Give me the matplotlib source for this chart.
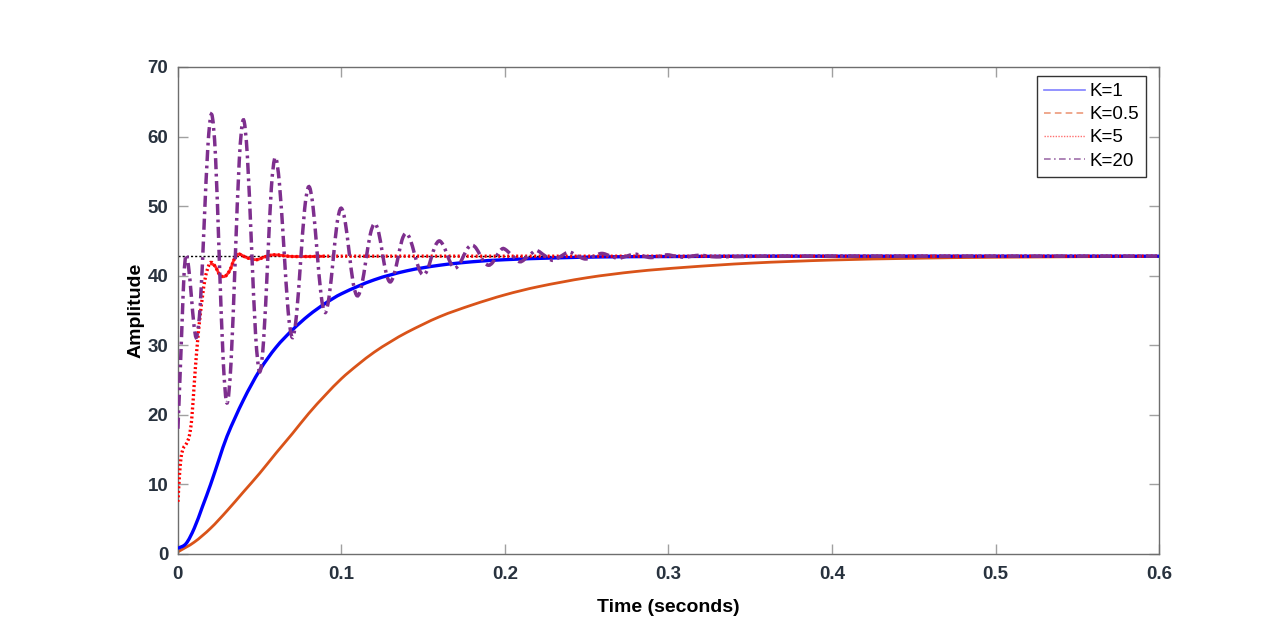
import matplotlib
matplotlib.use("Agg")
import matplotlib.pyplot as plt
from matplotlib.lines import Line2D
from matplotlib.path import Path
from matplotlib.patches import PathPatch

plt.rcParams["font.family"] = ["Liberation Sans", "DejaVu Sans"]

# Step response data
steady = 42.8
t_ref = [0.0, 0.6]

# K=1
t_k1 = [0, 0.005, 0.01, 0.015, 0.02, 0.025, 0.03, 0.04, 0.05, 0.06, 0.07, 0.08,
        0.09, 0.10, 0.12, 0.14, 0.16, 0.18, 0.20, 0.23, 0.26, 0.30, 0.35, 0.40,
        0.50, 0.60]
y_k1 = [0.8, 1.5, 3.7, 6.8, 10.0, 13.5, 16.9, 22.1, 26.4, 29.7, 32.2, 34.3,
        36.0, 37.4, 39.4, 40.7, 41.5, 42.0, 42.3, 42.55, 42.7, 42.75, 42.8, 42.8,
        42.8, 42.8]

# K=0.5
t_k05 = [0, 0.01, 0.02, 0.03, 0.04, 0.05, 0.06, 0.07, 0.08, 0.09, 0.10, 0.11,
         0.12, 0.13, 0.14, 0.16, 0.18, 0.20, 0.22, 0.25, 0.28, 0.31, 0.35, 0.40,
         0.45, 0.50, 0.60]
y_k05 = [0.3, 1.7, 3.7, 6.2, 8.9, 11.6, 14.5, 17.3, 20.2, 22.8, 25.2, 27.2,
         29.0, 30.5, 31.85, 34.1, 35.8, 37.25, 38.4, 39.7, 40.6, 41.2, 41.8,
         42.25, 42.5, 42.65, 42.78]

# K=5
t_k5 = [0, 0.001, 0.002, 0.0033, 0.0053, 0.0070, 0.0084, 0.010, 0.0114, 0.0135,
        0.0165, 0.0196, 0.0226, 0.0257, 0.0287, 0.0318, 0.0345, 0.0369, 0.042,
        0.0481, 0.053, 0.0583, 0.0705, 0.09, 0.2, 0.4, 0.6]
y_k5 = [7.5, 11.5, 14.0, 15.2, 15.9, 17.0, 19.3, 24.5, 28.9, 34.1,
        39.4, 41.8, 41.4, 40.1, 39.9, 40.8, 42.4, 43.1, 42.6,
        42.3, 42.7, 43.0, 42.75, 42.8, 42.8, 42.8, 42.8]
k5_solid_from = 0.0196
k5_solid_to = 0.09

# K=20 (extrema and points between them)
t_k20 = [0, 0.0012, 0.0025, 0.0037, 0.0049,
         0.0065, 0.0082, 0.0098, 0.0114,
         0.0137, 0.0160, 0.0183, 0.0206,
         0.0230, 0.0253, 0.0277, 0.0300,
         0.0325, 0.0350, 0.0375, 0.0400,
         0.0425, 0.0450, 0.0475, 0.0500,
         0.0524, 0.0548, 0.0571, 0.0595,
         0.0621, 0.0648, 0.0674, 0.0700,
         0.0725, 0.0750, 0.0775, 0.0800,
         0.0825, 0.0850, 0.0875, 0.0900,
         0.0924, 0.0949, 0.0973, 0.0997,
         0.1022, 0.1047, 0.1072, 0.1097,
         0.1124, 0.1150, 0.1177, 0.1203,
         0.1227, 0.1250, 0.1274, 0.1297,
         0.1321, 0.1346, 0.1370, 0.1394,
         0.1421, 0.1447, 0.1474, 0.1500,
         0.1525, 0.1549, 0.1574, 0.1598,
         0.1622, 0.1646, 0.1670, 0.1694,
         0.1720, 0.1745, 0.1771, 0.1796,
         0.1822, 0.1848, 0.1874, 0.1900,
         0.1923, 0.1946, 0.1969, 0.1992,
         0.2042, 0.2092, 0.2142, 0.2192, 0.2242, 0.2292, 0.2342, 0.2392,
         0.2442, 0.2492, 0.2542, 0.2592, 0.2642, 0.2692, 0.2742, 0.2792,
         0.2842, 0.2892, 0.2942, 0.2992, 0.3042, 0.3092, 0.3142, 0.3192,
         0.3242, 0.3292, 0.36, 0.45, 0.6]
y_k20 = [18.0, 25.0, 33.0, 40.0, 43.0,
         41.3, 37.1, 32.9, 31.2,
         35.9, 47.2, 58.5, 63.2,
         57.1, 42.45, 27.8, 21.7,
         27.6, 42.05, 56.5, 62.4,
         57.1, 44.3, 31.5, 26.2,
         30.7, 41.6, 52.5, 57.0,
         53.2, 44.05, 34.9, 31.1,
         34.3, 41.95, 49.6, 52.8,
         50.2, 43.75, 37.3, 34.7,
         36.9, 42.2, 47.5, 49.7,
         47.9, 43.4, 38.9, 37.1,
         38.6, 42.3, 46.0, 47.5,
         46.3, 43.3, 40.3, 39.1,
         40.1, 42.6, 45.1, 46.1,
         45.2, 43.1, 41.0, 40.1,
         40.8, 42.55, 44.3, 45.0,
         44.4, 43.05, 41.7, 41.1,
         41.6, 42.75, 43.9, 44.4,
         44.0, 42.95, 41.9, 41.5,
         41.85, 42.7, 43.55, 43.9,
         42.95, 42.0, 42.8, 43.6, 42.9, 42.2, 42.8, 43.4,
         42.85, 42.4, 42.8, 43.2, 42.85, 42.5, 42.8, 43.1,
         42.85, 42.6, 42.8, 43.0, 42.8, 42.65, 42.8, 42.95,
         42.8, 42.7, 42.8, 42.8, 42.8]

xticks = [0, 0.1, 0.2, 0.3, 0.4, 0.5, 0.6]
xticklabels = ["0", "0.1", "0.2", "0.3", "0.4", "0.5", "0.6"]
yticks = [0, 10, 20, 30, 40, 50, 60, 70]
labels = ["K=1", "K=0.5", "K=5", "K=20"]

c_blue = "#0000ff"
c_orange = "#d95319"
c_red = "#ff0000"
c_purple = "#7e2f8e"


def smooth_path(xs, ys):
    """Cubic Hermite curve through the read points, as a bezier path"""
    n = len(xs)
    slopes = []
    for i in range(n):
        a = max(i - 1, 0)
        b = min(i + 1, n - 1)
        slopes.append((ys[b] - ys[a]) / (xs[b] - xs[a]))
    verts = [(xs[0], ys[0])]
    codes = [Path.MOVETO]
    for i in range(n - 1):
        h = xs[i + 1] - xs[i]
        verts += [(xs[i] + h / 3, ys[i] + slopes[i] * h / 3),
                  (xs[i + 1] - h / 3, ys[i + 1] - slopes[i + 1] * h / 3),
                  (xs[i + 1], ys[i + 1])]
        codes += [Path.CURVE4] * 3
    return Path(verts, codes)


def draw_curve(ax, xs, ys, **kw):
    ax.add_patch(PathPatch(smooth_path(xs, ys), fill=False, **kw))


fig = plt.figure(figsize=(12.8, 6.23), dpi=100)
ax = fig.add_axes([0.139, 0.1108, 0.7665, 0.7817])

ax.plot(t_ref, [steady, steady], color="black", lw=1.0, ls=(0, (1.5, 1.5)), zorder=1)
draw_curve(ax, t_k05, y_k05, edgecolor=c_orange, lw=2.0, zorder=2)
draw_curve(ax, t_k1, y_k1, edgecolor=c_blue, lw=2.4, zorder=3)
draw_curve(ax, t_k5, y_k5, edgecolor=c_red, lw=2.4, ls=(0, (0.6, 0.75)),
           zorder=4)
solid = [(t, y) for t, y in zip(t_k5, y_k5) if k5_solid_from <= t <= k5_solid_to]
draw_curve(ax, [p[0] for p in solid], [p[1] for p in solid], edgecolor=c_red,
           lw=2.0, alpha=0.85, zorder=4)
draw_curve(ax, t_k20, y_k20, edgecolor=c_purple, lw=2.5,
           ls=(0, (3.2, 1.3, 0.8, 1.3)), zorder=5)

ax.set_xlim(0, 0.6)
ax.set_ylim(0, 70)
ax.set_xticks(xticks)
ax.set_xticklabels(xticklabels)
ax.set_yticks(yticks)

for sp in ax.spines.values():
    sp.set_color("#6e6e6e")
    sp.set_linewidth(1.0)
ax.tick_params(direction="in", length=7, width=1, color="#a0a0a0",
               top=True, right=True, labelsize=13.5, labelcolor="#28323e")
ax.tick_params(axis="x", pad=9)
ax.tick_params(axis="y", pad=7)
for lab in ax.get_xticklabels() + ax.get_yticklabels():
    lab.set_fontweight("bold")

ax.set_xlabel("Time (seconds)", fontsize=14, fontweight="bold", labelpad=11)
ax.set_ylabel("Amplitude", fontsize=14, fontweight="bold", labelpad=2)

handles = [
    Line2D([], [], color="#8080ff", lw=1.2),
    Line2D([], [], color="#ec9a7a", lw=1.2, ls=(0, (4, 2.5))),
    Line2D([], [], color="#ff7070", lw=1.0, ls=(0, (1, 1))),
    Line2D([], [], color="#a070aa", lw=1.2, ls=(0, (4, 2, 1, 2))),
]
leg = ax.legend(handles, labels, loc="upper right",
                bbox_to_anchor=(0.9867, 0.9815), borderaxespad=0,
                fontsize=13.5, frameon=True, fancybox=False, edgecolor="black",
                handlelength=2.2, handletextpad=0.2, labelspacing=0.32,
                borderpad=0.38)
leg.get_frame().set_linewidth(1.0)

fig.savefig("out.png", dpi=100, facecolor="white")
